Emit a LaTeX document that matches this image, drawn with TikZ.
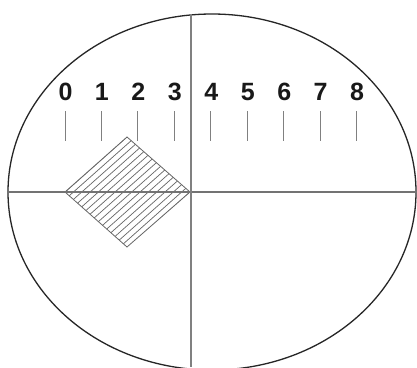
\documentclass[tikz,border=0pt]{standalone}
\usepackage{fontspec}
\setmainfont{Liberation Sans}
\usetikzlibrary{calc}
\tikzset{
  rim/.style={line width=1.3pt, draw=black!85},
  vaxis/.style={line width=2.6pt, draw=black!50},
  haxis/.style={line width=1.1pt, draw=black!55},
  tickmark/.style={line width=1pt, draw=black!50},
  digit/.style={font=\fontsize{25}{30}\selectfont\bfseries, text=black!90, anchor=base, inner sep=0pt},
  edge/.style={line width=0.8pt, draw=black!60},
  hatch/.style={line width=0.7pt, draw=black!60}
}
\begin{document}
\begin{tikzpicture}[x=1pt,y=-1pt]
\useasboundingbox (0,0) rectangle (417,367);
\fill[white] (0,0) rectangle (417,367);
\begin{scope}
\clip (0,0) rectangle (417,367);
\draw[rim] (212,192) ellipse [x radius=204, y radius=178];
\end{scope}
% crosshair
\coordinate (vtop) at (191,14);
\coordinate (vbot) at (191,367);
\coordinate (hl) at (9,192);
\coordinate (hr) at (417,192);
% diamond
\coordinate (L) at (65,192);
\coordinate (T) at (127,137);
\coordinate (R) at (190,192);
\coordinate (B) at (127,247);
\begin{scope}
\clip (L) -- (T) -- (R) -- (B) -- cycle;
\foreach \i in {0,...,15}{
  \pgfmathsetmacro{\t}{\i/15}
  \draw[hatch] ($(T)!\t!(R) + (10,-8.9)$) -- ($(T)!\t!(R) + (-72,64)$);
}
\end{scope}
\draw[edge] (L) -- (T) -- (R) -- (B) -- cycle;
\draw[haxis] (hl) -- (hr);
\draw[vaxis] (vtop) -- (vbot);
% scale
\foreach \i in {0,...,8}{
  \pgfmathsetmacro{\xx}{65+36.45*\i}
  \coordinate (ta\i) at (\xx,111);
  \coordinate (tb\i) at (\xx,141);
  \draw[tickmark] (ta\i) -- (tb\i);
  \node[digit] (d\i) at (\xx+0.5,100.5) {\i};
}
\end{tikzpicture}
\end{document}
